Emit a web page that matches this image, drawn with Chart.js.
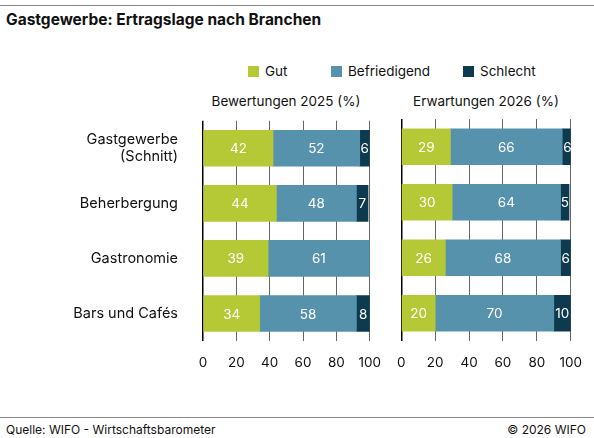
<!DOCTYPE html>
<html>
<head>
<meta charset="utf-8">
<script src="https://cdn.jsdelivr.net/npm/chart.js@4"></script>
<style>
  body { margin:0; width:594px; height:438px; position:relative; background:#fff; font-family:Inter, "Noto Sans", sans-serif; color:#111; overflow:hidden; }
  .abs { position:absolute; }
  #topline { left:0; top:5px; width:594px; height:1px; background:#888; }
  #title { left:6px; top:10px; font-size:15.5px; font-weight:700; }
  .leg { top:63px; font-size:13.5px; display:flex; align-items:center; }
  .leg i { display:inline-block; width:11px; height:11px; margin-right:6px; }
  .ptitle { top:93px; font-size:13.5px; width:200px; text-align:center; }
  #botline { left:0; top:417px; width:594px; height:1px; background:#888; }
  .foot { top:422px; font-size:12px; }
</style>
</head>
<body>
<div id="topline" class="abs"></div>
<div id="title" class="abs">Gastgewerbe: Ertragslage nach Branchen</div>
<div class="abs leg" style="left:248px"><i style="background:#b5c936"></i>Gut</div>
<div class="abs leg" style="left:331px"><i style="background:#5792ad"></i>Befriedigend</div>
<div class="abs leg" style="left:463px"><i style="background:#0e3a4f"></i>Schlecht</div>
<div class="abs ptitle" style="left:186px">Bewertungen 2025 (%)</div>
<div class="abs ptitle" style="left:386px">Erwartungen 2026 (%)</div>
<canvas id="c1" class="abs" style="left:0;top:95px" width="395" height="286"></canvas>
<canvas id="c2" class="abs" style="left:383px;top:95px" width="213" height="286"></canvas>
<div id="botline" class="abs"></div>
<div class="abs foot" style="left:6px">Quelle: WIFO - Wirtschaftsbarometer</div>
<div class="abs foot" style="right:8px">© 2026 WIFO</div>
<script>
const categories = [['Gastgewerbe', '(Schnitt)'], 'Beherbergung', 'Gastronomie', 'Bars und Cafés'];
const series = ['Gut', 'Befriedigend', 'Schlecht'];
const colors = ['#b5c936', '#5792ad', '#0e3a4f'];
const gut2025 = [42, 44, 39, 34];
const befr2025 = [52, 48, 61, 58];
const schl2025 = [6, 7, 0, 8];
const gut2026 = [29, 30, 26, 20];
const befr2026 = [66, 64, 68, 70];
const schl2026 = [6, 5, 6, 10];
const xTicks = [0, 20, 40, 60, 80, 100];

const labelPlugin = {
  id: 'segLabels',
  afterDatasetsDraw(chart) {
    const ctx = chart.ctx;
    ctx.save();
    ctx.font = '13.5px Inter, "Noto Sans", sans-serif';
    ctx.fillStyle = '#fff';
    ctx.textAlign = 'center';
    ctx.textBaseline = 'middle';
    chart.data.datasets.forEach((ds, i) => {
      chart.getDatasetMeta(i).data.forEach((bar, j) => {
        const v = ds.data[j];
        if (!v) return;
        ctx.fillText(v, (bar.x + bar.base) / 2, bar.y + 1);
      });
    });
    ctx.restore();
  }
};

function makeChart(id, values, showLabels) {
  return new Chart(document.getElementById(id), {
    type: 'bar',
    data: {
      labels: categories,
      datasets: series.map((s, i) => ({
        label: s, data: values[i], backgroundColor: colors[i],
        barThickness: 36, borderWidth: 0
      }))
    },
    options: {
      indexAxis: 'y',
      responsive: false,
      animation: false,
      layout: { padding: { top: 24, right: 10, left: 0, bottom: 0 } },
      plugins: { legend: { display: false }, tooltip: { enabled: false } },
      scales: {
        x: {
          stacked: true, min: 0, max: 100,
          afterBuildTicks: (ax) => { ax.ticks = xTicks.map(v => ({ value: v })); },
          afterFit: (ax) => { ax.height = 40; },
          border: { display: false },
          grid: {
            color: (c) => c.index === 0 ? '#000' : '#666',
            lineWidth: (c) => c.index === 0 ? 1.5 : 1,
            tickLength: 0
          },
          ticks: { color: '#111', padding: 14, font: { family: 'Inter, "Noto Sans", sans-serif', size: 13.5 } }
        },
        y: {
          stacked: true,
          afterFit: (ax) => { ax.width = showLabels ? 203 : 13; },
          border: { display: false },
          grid: { display: false },
          ticks: {
            display: showLabels, color: '#111', padding: 17,
            font: { family: 'Inter, "Noto Sans", sans-serif', size: 14.5 }
          }
        }
      }
    },
    plugins: [labelPlugin]
  });
}

makeChart('c1', [gut2025, befr2025, schl2025], true);
makeChart('c2', [gut2026, befr2026, schl2026], false);
</script>
</body>
</html>
